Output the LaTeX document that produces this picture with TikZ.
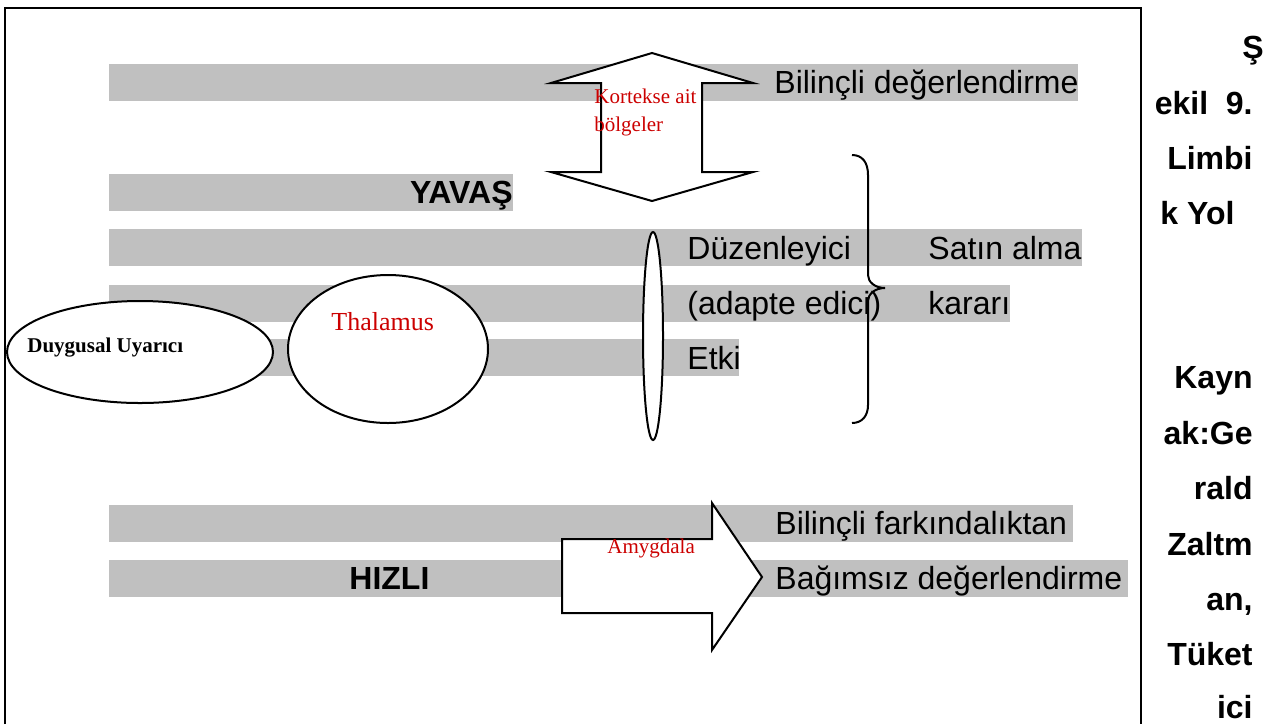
\documentclass[tikz,border=0pt]{standalone}
\usepackage{fontspec}
\setmainfont{Liberation Serif}
\setsansfont{Liberation Sans}
\definecolor{barfill}{RGB}{192,192,192}
\definecolor{koyukirmizi}{RGB}{204,0,0}
\tikzset{
  graybar/.style={fill=barfill},
  outline/.style={draw=black,line width=1pt,fill=white},
  sanslbl/.style={font=\sffamily\fontsize{16}{19}\selectfont,anchor=base west,inner sep=0pt},
  boldlbl/.style={font=\sffamily\bfseries\fontsize{16}{19}\selectfont,anchor=base west,inner sep=0pt},
  redlbl/.style={font=\fontsize{10.5}{12}\selectfont,text=koyukirmizi,anchor=base west,inner sep=0pt},
  sidelbl/.style={font=\sffamily\bfseries\fontsize{16}{19}\selectfont,anchor=base east,inner sep=0pt},
}
\begin{document}
\begin{tikzpicture}[x=0.5pt,y=-0.5pt]
      \useasboundingbox (0,0) rectangle (1278,724) ;
      \fill[white] (0,0) rectangle (1278,724) ;
      % frame
      \draw[line width=1.2pt] (5,724) -- (5,8) -- (1141,8) -- (1141,724) ;
      % gray bars
      \foreach \yt/\xe in {64/1078,174/513,229/1082,285/1010,339/739,505/1073,560/1128}
        \fill[graybar] (109,\yt) rectangle (\xe,\yt+37) ;
      % shapes
      \coordinate (duygusalmerkez) at (140,352) ;
      \coordinate (thalamusmerkez) at (388,349) ;
      \coordinate (incemerkez) at (653,336) ;
      \draw[outline] (duygusalmerkez) ellipse [x radius=133,y radius=51] ;
      \draw[outline] (thalamusmerkez) ellipse [x radius=100,y radius=74] ;
      \draw[outline] (incemerkez) ellipse [x radius=10,y radius=104] ;
      \draw[outline,line join=miter] (652,53) -- (753,83) -- (702,83) -- (702,172) -- (753,172)
        -- (652,201) -- (551,172) -- (601,172) -- (601,83) -- (551,83) -- cycle ;
      \draw[outline,line join=miter] (562,539) -- (712,539) -- (712,503) -- (762,577)
        -- (712,650) -- (712,613) -- (562,613) -- cycle ;
      \draw[line width=1pt] (852,155) .. controls (862,155) and (868,162) .. (868,175) -- (868,275)
        .. controls (868,282) and (875,288) .. (885,288)
        .. controls (875,288) and (868,294) .. (868,301) -- (868,405)
        .. controls (868,416) and (862,423) .. (852,423) ;
      % texts
      \node[sanslbl] (bilincli) at (774,93) {Bilinçli değerlendirme} ;
      \node[boldlbl,anchor=base east] (yavas) at (513,203) {YAVAŞ} ;
      \node[sanslbl] (duzen) at (687,259) {Düzenleyici} ;
      \node[sanslbl] (satin) at (928,259) {Satın alma} ;
      \node[sanslbl] (adapte) at (687,314) {(adapte edici)} ;
      \node[sanslbl] (karar) at (928,314) {kararı} ;
      \node[sanslbl] (etki) at (687,369) {Etki} ;
      \node[sanslbl] (farkinda) at (775,534) {Bilinçli farkındalıktan} ;
      \node[boldlbl] (hizli) at (349,589) {HIZLI} ;
      \node[sanslbl] (bagimsiz) at (775,589) {Bağımsız değerlendirme} ;
      \node[redlbl] (korteks) at (594,103) {Kortekse ait} ;
      \node[redlbl] (bolgeler) at (594,131) {bölgeler} ;
      \node[redlbl,font=\fontsize{13}{15}\selectfont] (thalamus) at (331,330) {Thalamus} ;
      \node[redlbl] (amygdala) at (607,553) {Amygdala} ;
      \node[anchor=base west,inner sep=0pt,font=\bfseries\fontsize{10.5}{12}\selectfont] (duygusal) at (27,352) {Duygusal Uyarıcı} ;
      % caption column
      \node[sidelbl] (s1) at (1264,58) {Ş} ;
      \node[sidelbl] (s2) at (1253,114) {ekil\ \ 9.} ;
      \node[sidelbl] (s3) at (1253,169) {Limbi} ;
      \node[sidelbl,anchor=base west] (s4) at (1160,224) {k Yol} ;
      \node[sidelbl] (s5) at (1253,388) {Kayn} ;
      \node[sidelbl] (s6) at (1253,444) {ak:Ge} ;
      \node[sidelbl] (s7) at (1253,499) {rald} ;
      \node[sidelbl] (s8) at (1253,555) {Zaltm} ;
      \node[sidelbl] (s9) at (1253,610) {an,} ;
      \node[sidelbl] (s10) at (1253,665) {Tüket} ;
      \node[sidelbl] (s11) at (1253,718) {ici} ;
    \end{tikzpicture}
\end{document}
